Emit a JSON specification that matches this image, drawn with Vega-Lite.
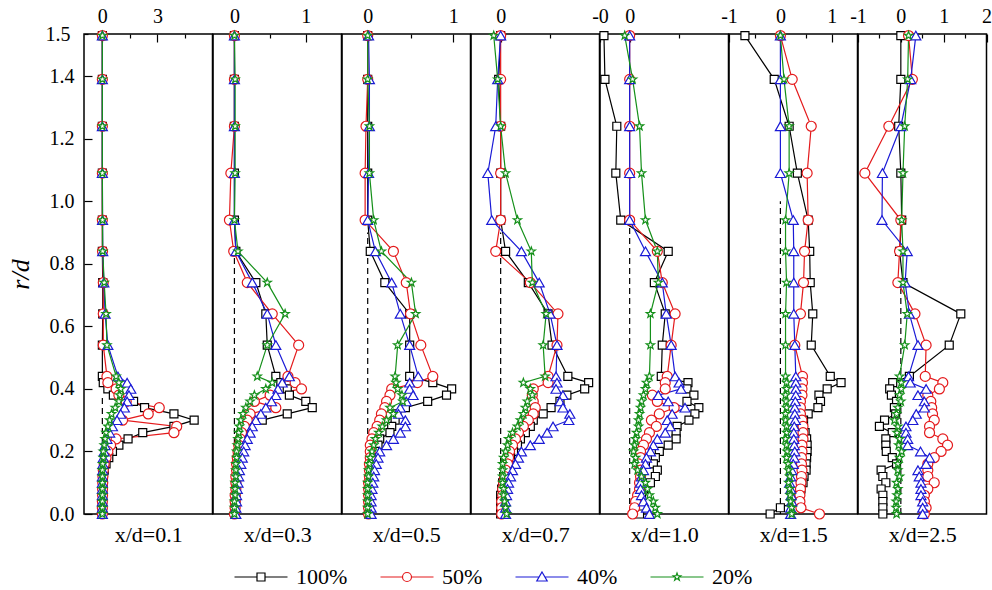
{
  "$schema": "https://vega.github.io/schema/vega-lite/v6.json",
  "padding": {"left": 6, "top": 1, "right": 2, "bottom": 0},
  "background": "white",
  "datasets": {
    "zero": [
      {"p": 1, "x": 0, "bot": 0, "top": 0.38}, {"p": 2, "x": 0, "bot": 0, "top": 0.84}, {"p": 3, "x": 0, "bot": 0, "top": 0.9},
      {"p": 4, "x": 0, "bot": 0, "top": 0.9}, {"p": 5, "x": 0, "bot": 0, "top": 0.92}, {"p": 6, "x": 0, "bot": 0, "top": 1.0},
      {"p": 7, "x": 0, "bot": 0, "top": 0.72}
    ],
    "prof": [
      {"p":1,"r":1.53,"100%":0,"50%":0,"40%":0,"20%":0},
      {"p":1,"r":1.39,"100%":0,"50%":0,"40%":0,"20%":0},
      {"p":1,"r":1.24,"100%":0,"50%":0,"40%":0,"20%":0},
      {"p":1,"r":1.09,"100%":0,"50%":0,"40%":0,"20%":0},
      {"p":1,"r":0.94,"100%":0,"50%":0,"40%":0.01,"20%":0.01},
      {"p":1,"r":0.84,"100%":0,"50%":0.01,"40%":0.02,"20%":0.02},
      {"p":1,"r":0.74,"100%":0.02,"50%":0.05,"40%":0.08,"20%":0.1},
      {"p":1,"r":0.64,"100%":0.02,"50%":0.05,"40%":0.15,"20%":0.2},
      {"p":1,"r":0.54,"100%":0,"50%":0.05,"40%":0.3,"20%":0.25},
      {"p":1,"r":0.44,"100%":0,"50%":0.25,"40%":0.85,"20%":0.75},
      {"p":1,"r":0.42,"100%":0.05,"50%":0.3,"40%":1.35,"20%":0.9},
      {"p":1,"r":0.40,"100%":0.3,"50%":0.75,"40%":1.55,"20%":1.0},
      {"p":1,"r":0.38,"100%":0.6,"50%":0.9,"40%":1.45,"20%":0.95},
      {"p":1,"r":0.36,"100%":1.7,"50%":1.3,"40%":1.35,"20%":0.9},
      {"p":1,"r":0.34,"100%":2.3,"50%":3.1,"40%":1.2,"20%":0.7},
      {"p":1,"r":0.32,"100%":3.9,"50%":2.5,"40%":1.0,"20%":0.5},
      {"p":1,"r":0.30,"100%":5.0,"50%":1.1,"40%":0.8,"20%":0.4},
      {"p":1,"r":0.28,"100%":3.9,"50%":4.05,"40%":0.55,"20%":0.3},
      {"p":1,"r":0.26,"100%":2.2,"50%":3.9,"40%":0.4,"20%":0.2},
      {"p":1,"r":0.24,"100%":1.4,"50%":0.75,"40%":0.25,"20%":0.15},
      {"p":1,"r":0.22,"100%":0.9,"50%":0.45,"40%":0.15,"20%":0.1},
      {"p":1,"r":0.20,"100%":0.55,"50%":0.3,"40%":0.1,"20%":0.05},
      {"p":1,"r":0.18,"100%":0.35,"50%":0.2,"40%":0.05,"20%":0.05},
      {"p":1,"r":0.16,"100%":0.2,"50%":0.1,"40%":0.03,"20%":0.02},
      {"p":1,"r":0.14,"100%":0.1,"50%":0.05,"40%":0.02,"20%":0},
      {"p":1,"r":0.12,"100%":0.05,"50%":0.03,"40%":0,"20%":0},
      {"p":1,"r":0.10,"100%":0.03,"50%":0.02,"40%":0,"20%":0},
      {"p":1,"r":0.08,"100%":0.02,"50%":0.01,"40%":0,"20%":0},
      {"p":1,"r":0.06,"100%":0.02,"50%":0.01,"40%":0,"20%":0},
      {"p":1,"r":0.04,"100%":0.01,"50%":0,"40%":0,"20%":0},
      {"p":1,"r":0.02,"100%":0.01,"50%":0,"40%":0,"20%":0},
      {"p":1,"r":0.00,"100%":0,"50%":0,"40%":0,"20%":0},

      {"p":2,"r":1.53,"100%":0,"50%":0,"40%":0,"20%":0},
      {"p":2,"r":1.39,"100%":0,"50%":0,"40%":0,"20%":0.01},
      {"p":2,"r":1.24,"100%":0,"50%":0,"40%":0,"20%":0.01},
      {"p":2,"r":1.09,"100%":0,"50%":-0.05,"40%":0,"20%":0.01},
      {"p":2,"r":0.94,"100%":0,"50%":-0.07,"40%":0,"20%":0},
      {"p":2,"r":0.84,"100%":0.02,"50%":-0.01,"40%":0.02,"20%":0.05},
      {"p":2,"r":0.74,"100%":0.3,"50%":0.18,"40%":0.25,"20%":0.46},
      {"p":2,"r":0.64,"100%":0.44,"50%":0.53,"40%":0.46,"20%":0.71},
      {"p":2,"r":0.54,"100%":0.46,"50%":0.9,"40%":0.58,"20%":0.46},
      {"p":2,"r":0.44,"100%":0.58,"50%":0.75,"40%":0.77,"20%":0.32},
      {"p":2,"r":0.42,"100%":0.65,"50%":0.85,"40%":0.67,"20%":0.53},
      {"p":2,"r":0.40,"100%":0.74,"50%":0.94,"40%":0.61,"20%":0.44},
      {"p":2,"r":0.38,"100%":0.77,"50%":0.5,"40%":0.58,"20%":0.28},
      {"p":2,"r":0.36,"100%":1.0,"50%":0.28,"40%":0.52,"20%":0.22},
      {"p":2,"r":0.34,"100%":1.09,"50%":0.58,"40%":0.44,"20%":0.16},
      {"p":2,"r":0.32,"100%":0.74,"50%":0.22,"40%":0.37,"20%":0.12},
      {"p":2,"r":0.30,"100%":0.39,"50%":0.18,"40%":0.3,"20%":0.09},
      {"p":2,"r":0.28,"100%":0.18,"50%":0.14,"40%":0.25,"20%":0.07},
      {"p":2,"r":0.26,"100%":0.12,"50%":0.1,"40%":0.22,"20%":0.06},
      {"p":2,"r":0.24,"100%":0.09,"50%":0.08,"40%":0.18,"20%":0.05},
      {"p":2,"r":0.22,"100%":0.07,"50%":0.06,"40%":0.15,"20%":0.04},
      {"p":2,"r":0.20,"100%":0.06,"50%":0.05,"40%":0.13,"20%":0.03},
      {"p":2,"r":0.18,"100%":0.05,"50%":0.04,"40%":0.11,"20%":0.03},
      {"p":2,"r":0.16,"100%":0.04,"50%":0.03,"40%":0.09,"20%":0.02},
      {"p":2,"r":0.14,"100%":0.04,"50%":0.03,"40%":0.07,"20%":0.02},
      {"p":2,"r":0.12,"100%":0.03,"50%":0.02,"40%":0.06,"20%":0.02},
      {"p":2,"r":0.10,"100%":0.03,"50%":0.02,"40%":0.05,"20%":0.01},
      {"p":2,"r":0.08,"100%":0.02,"50%":0.02,"40%":0.04,"20%":0.01},
      {"p":2,"r":0.06,"100%":0.02,"50%":0.01,"40%":0.03,"20%":0.01},
      {"p":2,"r":0.04,"100%":0.02,"50%":0.01,"40%":0.03,"20%":0},
      {"p":2,"r":0.02,"100%":0.01,"50%":0.01,"40%":0.02,"20%":0},
      {"p":2,"r":0.00,"100%":0.01,"50%":0,"40%":0.02,"20%":0},

      {"p":3,"r":1.53,"100%":0,"50%":0,"40%":0.01,"20%":0},
      {"p":3,"r":1.39,"100%":0,"50%":0,"40%":0.02,"20%":0},
      {"p":3,"r":1.24,"100%":0,"50%":-0.02,"40%":0.02,"20%":0.02},
      {"p":3,"r":1.09,"100%":0,"50%":-0.03,"40%":0.01,"20%":0.02},
      {"p":3,"r":0.94,"100%":0,"50%":-0.03,"40%":0,"20%":0.07},
      {"p":3,"r":0.84,"100%":0.03,"50%":0.3,"40%":0.09,"20%":0.16},
      {"p":3,"r":0.74,"100%":0.2,"50%":0.45,"40%":0.28,"20%":0.51},
      {"p":3,"r":0.64,"100%":0.49,"50%":0.5,"40%":0.38,"20%":0.56},
      {"p":3,"r":0.54,"100%":0.49,"50%":0.62,"40%":0.49,"20%":0.35},
      {"p":3,"r":0.44,"100%":0.49,"50%":0.76,"40%":0.59,"20%":0.32},
      {"p":3,"r":0.42,"100%":0.76,"50%":0.58,"40%":0.49,"20%":0.33},
      {"p":3,"r":0.40,"100%":0.98,"50%":0.28,"40%":0.49,"20%":0.35},
      {"p":3,"r":0.38,"100%":0.92,"50%":0.26,"40%":0.53,"20%":0.4},
      {"p":3,"r":0.36,"100%":0.7,"50%":0.22,"40%":0.45,"20%":0.41},
      {"p":3,"r":0.34,"100%":0.44,"50%":0.2,"40%":0.38,"20%":0.26},
      {"p":3,"r":0.32,"100%":0.34,"50%":0.16,"40%":0.36,"20%":0.3},
      {"p":3,"r":0.30,"100%":0.32,"50%":0.14,"40%":0.44,"20%":0.22},
      {"p":3,"r":0.28,"100%":0.28,"50%":0.11,"40%":0.44,"20%":0.17},
      {"p":3,"r":0.26,"100%":0.26,"50%":0.07,"40%":0.38,"20%":0.13},
      {"p":3,"r":0.24,"100%":0.14,"50%":0.05,"40%":0.3,"20%":0.09},
      {"p":3,"r":0.22,"100%":0.12,"50%":0.03,"40%":0.22,"20%":0.07},
      {"p":3,"r":0.20,"100%":0.08,"50%":0.03,"40%":0.14,"20%":0.05},
      {"p":3,"r":0.18,"100%":0.06,"50%":0.03,"40%":0.12,"20%":0.03},
      {"p":3,"r":0.16,"100%":0.05,"50%":0.02,"40%":0.1,"20%":0.02},
      {"p":3,"r":0.14,"100%":0.04,"50%":0.02,"40%":0.08,"20%":0.01},
      {"p":3,"r":0.12,"100%":0.03,"50%":0.02,"40%":0.07,"20%":0.01},
      {"p":3,"r":0.10,"100%":0.03,"50%":0.01,"40%":0.06,"20%":0},
      {"p":3,"r":0.08,"100%":0.02,"50%":0.01,"40%":0.05,"20%":0},
      {"p":3,"r":0.06,"100%":0.02,"50%":0.01,"40%":0.04,"20%":0},
      {"p":3,"r":0.04,"100%":0.02,"50%":0.01,"40%":0.04,"20%":0},
      {"p":3,"r":0.02,"100%":0.01,"50%":0.01,"40%":0.04,"20%":0},
      {"p":3,"r":0.00,"100%":0.01,"50%":0.01,"40%":0.04,"20%":0},

      {"p":4,"r":1.53,"100%":0,"50%":0,"40%":0,"20%":-0.07},
      {"p":4,"r":1.39,"100%":-0.02,"50%":0,"40%":-0.03,"20%":-0.03},
      {"p":4,"r":1.24,"100%":0,"50%":0,"40%":-0.05,"20%":0},
      {"p":4,"r":1.09,"100%":0,"50%":0,"40%":-0.13,"20%":0.05},
      {"p":4,"r":0.94,"100%":0,"50%":0,"40%":-0.09,"20%":0.17},
      {"p":4,"r":0.84,"100%":0.05,"50%":-0.05,"40%":0.21,"20%":0.31},
      {"p":4,"r":0.74,"100%":0.28,"50%":0.3,"40%":0.39,"20%":0.32},
      {"p":4,"r":0.64,"100%":0.48,"50%":0.58,"40%":0.5,"20%":0.46},
      {"p":4,"r":0.54,"100%":0.52,"50%":0.57,"40%":0.57,"20%":0.43},
      {"p":4,"r":0.44,"100%":0.68,"50%":0.48,"40%":0.56,"20%":0.45},
      {"p":4,"r":0.42,"100%":0.89,"50%":0.48,"40%":0.57,"20%":0.23},
      {"p":4,"r":0.40,"100%":0.85,"50%":0.33,"40%":0.56,"20%":0.3},
      {"p":4,"r":0.38,"100%":0.67,"50%":0.32,"40%":0.63,"20%":0.32},
      {"p":4,"r":0.36,"100%":0.6,"50%":0.33,"40%":0.6,"20%":0.27},
      {"p":4,"r":0.34,"100%":0.51,"50%":0.35,"40%":0.63,"20%":0.25},
      {"p":4,"r":0.32,"100%":0.43,"50%":0.33,"40%":0.7,"20%":0.23},
      {"p":4,"r":0.30,"100%":0.33,"50%":0.28,"40%":0.69,"20%":0.2},
      {"p":4,"r":0.28,"100%":0.3,"50%":0.23,"40%":0.53,"20%":0.17},
      {"p":4,"r":0.26,"100%":0.25,"50%":0.18,"40%":0.47,"20%":0.12},
      {"p":4,"r":0.24,"100%":0.2,"50%":0.15,"40%":0.39,"20%":0.08},
      {"p":4,"r":0.22,"100%":0.17,"50%":0.12,"40%":0.3,"20%":0.07},
      {"p":4,"r":0.20,"100%":0.13,"50%":0.09,"40%":0.21,"20%":0.05},
      {"p":4,"r":0.18,"100%":0.1,"50%":0.08,"40%":0.18,"20%":0.03},
      {"p":4,"r":0.16,"100%":0.07,"50%":0.07,"40%":0.15,"20%":0.02},
      {"p":4,"r":0.14,"100%":0.05,"50%":0.05,"40%":0.12,"20%":0.02},
      {"p":4,"r":0.12,"100%":0.03,"50%":0.04,"40%":0.1,"20%":0.02},
      {"p":4,"r":0.10,"100%":0.02,"50%":0.03,"40%":0.08,"20%":0.02},
      {"p":4,"r":0.08,"100%":0.01,"50%":0.02,"40%":0.07,"20%":0.03},
      {"p":4,"r":0.06,"100%":0,"50%":0.02,"40%":0.06,"20%":0.03},
      {"p":4,"r":0.04,"100%":0,"50%":0.01,"40%":0.05,"20%":0.04},
      {"p":4,"r":0.02,"100%":0,"50%":0.01,"40%":0.05,"20%":0.05},
      {"p":4,"r":0.00,"100%":0,"50%":0.01,"40%":0.05,"20%":0.06},

      {"p":5,"r":1.53,"100%":-0.26,"50%":0,"40%":0,"20%":-0.05},
      {"p":5,"r":1.39,"100%":-0.25,"50%":0,"40%":0,"20%":0.03},
      {"p":5,"r":1.24,"100%":-0.13,"50%":0,"40%":0,"20%":0.1},
      {"p":5,"r":1.09,"100%":-0.14,"50%":0,"40%":0,"20%":0.12},
      {"p":5,"r":0.94,"100%":-0.09,"50%":0,"40%":0,"20%":0.16},
      {"p":5,"r":0.84,"100%":0.39,"50%":0.28,"40%":0.16,"20%":0.28},
      {"p":5,"r":0.74,"100%":0.25,"50%":0.33,"40%":0.33,"20%":0.29},
      {"p":5,"r":0.64,"100%":0.36,"50%":0.46,"40%":0.37,"20%":0.21},
      {"p":5,"r":0.54,"100%":0.33,"50%":0.42,"40%":0.42,"20%":0.21},
      {"p":5,"r":0.44,"100%":0.32,"50%":0.38,"40%":0.46,"20%":0.2},
      {"p":5,"r":0.42,"100%":0.59,"50%":0.36,"40%":0.5,"20%":0.17},
      {"p":5,"r":0.40,"100%":0.58,"50%":0.36,"40%":0.52,"20%":0.16},
      {"p":5,"r":0.38,"100%":0.65,"50%":0.23,"40%":0.29,"20%":0.14},
      {"p":5,"r":0.36,"100%":0.58,"50%":0.28,"40%":0.39,"20%":0.12},
      {"p":5,"r":0.34,"100%":0.7,"50%":0.45,"40%":0.56,"20%":0.11},
      {"p":5,"r":0.32,"100%":0.66,"50%":0.3,"40%":0.43,"20%":0.1},
      {"p":5,"r":0.30,"100%":0.6,"50%":0.22,"40%":0.38,"20%":0.09},
      {"p":5,"r":0.28,"100%":0.48,"50%":0.27,"40%":0.41,"20%":0.09},
      {"p":5,"r":0.26,"100%":0.47,"50%":0.2,"40%":0.36,"20%":0.07},
      {"p":5,"r":0.24,"100%":0.47,"50%":0.17,"40%":0.28,"20%":0.06},
      {"p":5,"r":0.22,"100%":0.39,"50%":0.14,"40%":0.24,"20%":0.05},
      {"p":5,"r":0.20,"100%":0.3,"50%":0.11,"40%":0.21,"20%":0.04},
      {"p":5,"r":0.18,"100%":0.26,"50%":0.11,"40%":0.17,"20%":0.06},
      {"p":5,"r":0.16,"100%":0.24,"50%":0.09,"40%":0.16,"20%":0.05},
      {"p":5,"r":0.14,"100%":0.28,"50%":0.11,"40%":0.14,"20%":0.08},
      {"p":5,"r":0.12,"100%":0.26,"50%":0.11,"40%":0.12,"20%":0.12},
      {"p":5,"r":0.10,"100%":0.21,"50%":0.1,"40%":0.11,"20%":0.16},
      {"p":5,"r":0.08,"100%":0.14,"50%":0.1,"40%":0.11,"20%":0.18},
      {"p":5,"r":0.06,"100%":0.12,"50%":0.08,"40%":0.12,"20%":0.2},
      {"p":5,"r":0.04,"100%":0.1,"50%":0.06,"40%":0.14,"20%":0.24},
      {"p":5,"r":0.02,"100%":0.11,"50%":0.05,"40%":0.17,"20%":0.26},
      {"p":5,"r":0.00,"100%":0.1,"50%":0.03,"40%":0.2,"20%":0.28},

      {"p":6,"r":1.53,"100%":-0.69,"50%":0,"40%":0,"20%":0},
      {"p":6,"r":1.39,"100%":-0.12,"50%":0.23,"40%":0,"20%":0.07},
      {"p":6,"r":1.24,"100%":0.17,"50%":0.6,"40%":0,"20%":0.17},
      {"p":6,"r":1.09,"100%":0.33,"50%":0.52,"40%":0,"20%":0.17},
      {"p":6,"r":0.94,"100%":0.54,"50%":0.54,"40%":0.25,"20%":0.1},
      {"p":6,"r":0.84,"100%":0.57,"50%":0.47,"40%":0.26,"20%":0.1},
      {"p":6,"r":0.74,"100%":0.58,"50%":0.45,"40%":0.26,"20%":0.12},
      {"p":6,"r":0.64,"100%":0.63,"50%":0.39,"40%":0.26,"20%":0.1},
      {"p":6,"r":0.54,"100%":0.6,"50%":0.28,"40%":0.28,"20%":0.1},
      {"p":6,"r":0.44,"100%":0.97,"50%":0.43,"40%":0.3,"20%":0.1},
      {"p":6,"r":0.42,"100%":1.18,"50%":0.43,"40%":0.3,"20%":0.12},
      {"p":6,"r":0.40,"100%":0.91,"50%":0.42,"40%":0.3,"20%":0.12},
      {"p":6,"r":0.38,"100%":0.75,"50%":0.42,"40%":0.3,"20%":0.1},
      {"p":6,"r":0.36,"100%":0.78,"50%":0.39,"40%":0.29,"20%":0.11},
      {"p":6,"r":0.34,"100%":0.73,"50%":0.39,"40%":0.28,"20%":0.12},
      {"p":6,"r":0.32,"100%":0.54,"50%":0.39,"40%":0.28,"20%":0.1},
      {"p":6,"r":0.30,"100%":0.45,"50%":0.42,"40%":0.29,"20%":0.1},
      {"p":6,"r":0.28,"100%":0.42,"50%":0.44,"40%":0.27,"20%":0.12},
      {"p":6,"r":0.26,"100%":0.48,"50%":0.44,"40%":0.26,"20%":0.12},
      {"p":6,"r":0.24,"100%":0.51,"50%":0.44,"40%":0.26,"20%":0.1},
      {"p":6,"r":0.22,"100%":0.52,"50%":0.42,"40%":0.27,"20%":0.12},
      {"p":6,"r":0.20,"100%":0.52,"50%":0.42,"40%":0.28,"20%":0.13},
      {"p":6,"r":0.18,"100%":0.51,"50%":0.41,"40%":0.27,"20%":0.12},
      {"p":6,"r":0.16,"100%":0.5,"50%":0.41,"40%":0.25,"20%":0.15},
      {"p":6,"r":0.14,"100%":0.5,"50%":0.42,"40%":0.22,"20%":0.16},
      {"p":6,"r":0.12,"100%":0.46,"50%":0.41,"40%":0.2,"20%":0.18},
      {"p":6,"r":0.10,"100%":0.44,"50%":0.4,"40%":0.18,"20%":0.16},
      {"p":6,"r":0.08,"100%":0.4,"50%":0.39,"40%":0.2,"20%":0.18},
      {"p":6,"r":0.06,"100%":0.36,"50%":0.38,"40%":0.21,"20%":0.19},
      {"p":6,"r":0.04,"100%":0.3,"50%":0.38,"40%":0.22,"20%":0.2},
      {"p":6,"r":0.02,"100%":0.0,"50%":0.4,"40%":0.2,"20%":0.22},
      {"p":6,"r":0.00,"100%":-0.2,"50%":0.76,"40%":0.2,"20%":0.22},

      {"p":7,"r":1.53,"100%":0,"50%":0.18,"40%":0.35,"20%":0.18},
      {"p":7,"r":1.39,"100%":0,"50%":0.27,"40%":0.23,"20%":0.16},
      {"p":7,"r":1.24,"100%":-0.05,"50%":-0.28,"40%":0,"20%":0.09},
      {"p":7,"r":1.09,"100%":0,"50%":-0.84,"40%":-0.43,"20%":0.05},
      {"p":7,"r":0.94,"100%":0.02,"50%":0.0,"40%":-0.44,"20%":0.02},
      {"p":7,"r":0.84,"100%":-0.03,"50%":-0.03,"40%":0.15,"20%":0.05},
      {"p":7,"r":0.74,"100%":0.05,"50%":-0.07,"40%":0.1,"20%":0.05},
      {"p":7,"r":0.64,"100%":1.4,"50%":0.33,"40%":0.2,"20%":0.15},
      {"p":7,"r":0.54,"100%":1.13,"50%":0.59,"40%":0.4,"20%":0.09},
      {"p":7,"r":0.44,"100%":0.2,"50%":0.57,"40%":0.18,"20%":-0.03},
      {"p":7,"r":0.42,"100%":-0.19,"50%":0.98,"40%":0.22,"20%":0.01},
      {"p":7,"r":0.40,"100%":-0.26,"50%":0.9,"40%":0.59,"20%":0.01},
      {"p":7,"r":0.38,"100%":-0.22,"50%":0.63,"40%":0.4,"20%":-0.03},
      {"p":7,"r":0.36,"100%":-0.1,"50%":0.7,"40%":0.55,"20%":0.0},
      {"p":7,"r":0.34,"100%":-0.15,"50%":0.72,"40%":0.55,"20%":-0.07},
      {"p":7,"r":0.32,"100%":-0.12,"50%":0.74,"40%":0.36,"20%":-0.1},
      {"p":7,"r":0.30,"100%":-0.38,"50%":0.78,"40%":0.28,"20%":-0.15},
      {"p":7,"r":0.28,"100%":-0.5,"50%":0.67,"40%":0.12,"20%":-0.07},
      {"p":7,"r":0.26,"100%":-0.2,"50%":0.67,"40%":0.12,"20%":-0.09},
      {"p":7,"r":0.24,"100%":-0.35,"50%":0.98,"40%":0.16,"20%":-0.03},
      {"p":7,"r":0.22,"100%":-0.35,"50%":1.09,"40%":0.16,"20%":-0.05},
      {"p":7,"r":0.20,"100%":-0.34,"50%":0.94,"40%":0.46,"20%":0.02},
      {"p":7,"r":0.18,"100%":-0.2,"50%":0.78,"40%":0.67,"20%":-0.03},
      {"p":7,"r":0.16,"100%":-0.1,"50%":0.63,"40%":0.59,"20%":-0.07},
      {"p":7,"r":0.14,"100%":-0.46,"50%":0.63,"40%":0.4,"20%":-0.07},
      {"p":7,"r":0.12,"100%":-0.42,"50%":0.63,"40%":0.43,"20%":-0.03},
      {"p":7,"r":0.10,"100%":-0.35,"50%":0.78,"40%":0.47,"20%":-0.1},
      {"p":7,"r":0.08,"100%":-0.46,"50%":0.63,"40%":0.47,"20%":-0.07},
      {"p":7,"r":0.06,"100%":-0.42,"50%":0.55,"40%":0.47,"20%":-0.09},
      {"p":7,"r":0.04,"100%":-0.42,"50%":0.55,"40%":0.51,"20%":-0.11},
      {"p":7,"r":0.02,"100%":-0.42,"50%":0.59,"40%":0.51,"20%":-0.11},
      {"p":7,"r":0.00,"100%":-0.42,"50%":0.55,"40%":0.51,"20%":-0.1}
    ]
  },
  "spacing": 0,
  "bounds": "flush",
  "resolve": {"legend": {"color": "independent"}},
  "hconcat": [
    {
      "width": 128.5, "height": 480,
      "resolve": {"axis": {"x": "independent"}},
      "layer": [
        {"data": {"name": "zero"}, "transform": [{"filter": "datum.p == 1"}],
         "mark": {"type": "rule", "strokeDash": [6, 4], "strokeWidth": 1.2, "color": "black"},
         "encoding": {"x": {"field": "x", "type": "quantitative", "axis": {"orient": "bottom", "title": "x/d=0.1", "labels": false, "ticks": false, "domain": false}},
                      "y": {"field": "bot", "type": "quantitative", "title": "r/d"}, "y2": {"field": "top"}}},
        {"data": {"name": "prof"}, "transform": [{"filter": "datum.p == 1"}, {"fold": ["100%", "50%", "40%", "20%"], "as": ["s", "v"]}],
         "encoding": {
           "x": {"field": "v", "type": "quantitative", "scale": {"domain": [-1, 6], "nice": false, "zero": false},
                 "axis": {"orient": "top", "title": null, "values": [0, 1.5, 3, 4.5], "labelExpr": "datum.value % 1 == 0 ? '' + datum.value : ''",
                          "tickSize": {"condition": {"test": "datum.value % 1 != 0", "value": -4}, "value": -8}}},
           "y": {"field": "r", "type": "quantitative", "scale": {"domain": [0, 1.535], "nice": false, "zero": false},
                 "axis": {"orient": "left", "title": "r/d", "titleFontStyle": "italic", "titleFontSize": 26, "titlePadding": 12,
                          "values": [0, 0.1, 0.2, 0.3, 0.4, 0.5, 0.6, 0.7, 0.8, 0.9, 1.0, 1.1, 1.2, 1.3, 1.4, 1.5, 1.535],
                          "labelExpr": "datum.value > 1.52 ? '1.5' : (round(datum.value * 10) % 2 == 0 && datum.value < 1.45 ? format(datum.value, '.1f') : '')",
                          "tickSize": {"condition": {"test": "round(datum.value * 10) % 2 == 1", "value": -4}, "value": -8}}},
           "color": {"field": "s", "type": "nominal",
                     "scale": {"domain": ["100%", "50%", "40%", "20%"], "range": ["#000000", "#e41a1c", "#1a1ad6", "#15901a"]},
                     "legend": {"orient": "none", "legendX": 166, "legendY": 532, "direction": "horizontal", "title": null, "labelFontSize": 22, "labelColor": "black",
                                "symbolSize": 400, "symbolStrokeWidth": 1.2, "labelOffset": 24, "columnPadding": 30,
                                "encode": {"symbols": {"update": {
                                  "shape": {"signal": "datum.value == '100%' ? 'M-2.65,0H-0.4M0.4,0H2.65M-0.4,-0.4H0.4V0.4H-0.4Z' : datum.value == '50%' ? 'M-2.65,0H-0.45M0.45,0H2.65M-0.45,0A0.45,0.45,0,1,1,0.45,0A0.45,0.45,0,1,1,-0.45,0Z' : datum.value == '40%' ? 'M-2.65,0H-0.28M0.28,0H2.65M0,-0.5L0.52,0.4H-0.52Z' : 'M-2.65,0H-0.3M0.3,0H2.65M0,-0.4L0.094,-0.13L0.38,-0.124L0.152,0.05L0.235,0.324L0,0.16L-0.235,0.324L-0.152,0.05L-0.38,-0.124L-0.094,-0.13Z'"}}}}}}
         },
         "layer": [
           {"mark": {"type": "line", "strokeWidth": 1.2}, "encoding": {"order": {"field": "r", "type": "quantitative"}}},
           {"transform": [{"filter": "datum.s == '100%'"}], "mark": {"type": "point", "shape": "square", "size": 64, "filled": false, "fill": "white", "opacity": 1, "strokeWidth": 1.2}},
           {"transform": [{"filter": "datum.s == '50%'"}], "mark": {"type": "point", "shape": "circle", "size": 100, "filled": false, "fill": "white", "opacity": 1, "strokeWidth": 1.2}},
           {"transform": [{"filter": "datum.s == '40%'"}], "mark": {"type": "point", "shape": "triangle-up", "size": 100, "filled": false, "fill": "white", "opacity": 1, "strokeWidth": 1.2}},
           {"transform": [{"filter": "datum.s == '20%'"}], "mark": {"type": "point", "shape": "M0,-1L0.235,-0.324L0.951,-0.309L0.38,0.124L0.588,0.809L0,0.4L-0.588,0.809L-0.38,0.124L-0.951,-0.309L-0.235,-0.324Z", "size": 75, "filled": false, "fill": "white", "opacity": 1, "strokeWidth": 1.2}}
         ]}
      ]
    },
    {
      "width": 128.5, "height": 480,
      "resolve": {"axis": {"x": "independent"}},
      "layer": [
        {"data": {"name": "zero"}, "transform": [{"filter": "datum.p == 2"}],
         "mark": {"type": "rule", "strokeDash": [6, 4], "strokeWidth": 1.2, "color": "black"},
         "encoding": {"x": {"field": "x", "type": "quantitative", "axis": {"orient": "bottom", "title": "x/d=0.3", "labels": false, "ticks": false, "domain": false}},
                      "y": {"field": "bot", "type": "quantitative", "axis": null}, "y2": {"field": "top"}}},
        {"data": {"name": "prof"}, "transform": [{"filter": "datum.p == 2"}, {"fold": ["100%", "50%", "40%", "20%"], "as": ["s", "v"]}],
         "encoding": {
           "x": {"field": "v", "type": "quantitative", "scale": {"domain": [-0.3, 1.5], "nice": false, "zero": false},
                 "axis": {"orient": "top", "title": null, "values": [0, 0.5, 1], "labelExpr": "datum.value % 1 == 0 ? '' + datum.value : ''",
                          "tickSize": {"condition": {"test": "datum.value % 1 != 0", "value": -4}, "value": -8}}},
           "y": {"field": "r", "type": "quantitative", "scale": {"domain": [0, 1.535], "nice": false, "zero": false}, "axis": null},
           "color": {"field": "s", "type": "nominal", "scale": {"domain": ["100%", "50%", "40%", "20%"], "range": ["#000000", "#e41a1c", "#1a1ad6", "#15901a"]}, "legend": null}
         },
         "layer": [
           {"mark": {"type": "line", "strokeWidth": 1.2}, "encoding": {"order": {"field": "r", "type": "quantitative"}}},
           {"transform": [{"filter": "datum.s == '100%'"}], "mark": {"type": "point", "shape": "square", "size": 64, "filled": false, "fill": "white", "opacity": 1, "strokeWidth": 1.2}},
           {"transform": [{"filter": "datum.s == '50%'"}], "mark": {"type": "point", "shape": "circle", "size": 100, "filled": false, "fill": "white", "opacity": 1, "strokeWidth": 1.2}},
           {"transform": [{"filter": "datum.s == '40%'"}], "mark": {"type": "point", "shape": "triangle-up", "size": 100, "filled": false, "fill": "white", "opacity": 1, "strokeWidth": 1.2}},
           {"transform": [{"filter": "datum.s == '20%'"}], "mark": {"type": "point", "shape": "M0,-1L0.235,-0.324L0.951,-0.309L0.38,0.124L0.588,0.809L0,0.4L-0.588,0.809L-0.38,0.124L-0.951,-0.309L-0.235,-0.324Z", "size": 75, "filled": false, "fill": "white", "opacity": 1, "strokeWidth": 1.2}}
         ]}
      ]
    },
    {
      "width": 128.5, "height": 480,
      "resolve": {"axis": {"x": "independent"}},
      "layer": [
        {"data": {"name": "zero"}, "transform": [{"filter": "datum.p == 3"}],
         "mark": {"type": "rule", "strokeDash": [6, 4], "strokeWidth": 1.2, "color": "black"},
         "encoding": {"x": {"field": "x", "type": "quantitative", "axis": {"orient": "bottom", "title": "x/d=0.5", "labels": false, "ticks": false, "domain": false}},
                      "y": {"field": "bot", "type": "quantitative", "axis": null}, "y2": {"field": "top"}}},
        {"data": {"name": "prof"}, "transform": [{"filter": "datum.p == 3"}, {"fold": ["100%", "50%", "40%", "20%"], "as": ["s", "v"]}],
         "encoding": {
           "x": {"field": "v", "type": "quantitative", "scale": {"domain": [-0.3, 1.2], "nice": false, "zero": false},
                 "axis": {"orient": "top", "title": null, "values": [0, 0.5, 1], "labelExpr": "datum.value % 1 == 0 ? '' + datum.value : ''",
                          "tickSize": {"condition": {"test": "datum.value % 1 != 0", "value": -4}, "value": -8}}},
           "y": {"field": "r", "type": "quantitative", "scale": {"domain": [0, 1.535], "nice": false, "zero": false}, "axis": null},
           "color": {"field": "s", "type": "nominal", "scale": {"domain": ["100%", "50%", "40%", "20%"], "range": ["#000000", "#e41a1c", "#1a1ad6", "#15901a"]}, "legend": null}
         },
         "layer": [
           {"mark": {"type": "line", "strokeWidth": 1.2}, "encoding": {"order": {"field": "r", "type": "quantitative"}}},
           {"transform": [{"filter": "datum.s == '100%'"}], "mark": {"type": "point", "shape": "square", "size": 64, "filled": false, "fill": "white", "opacity": 1, "strokeWidth": 1.2}},
           {"transform": [{"filter": "datum.s == '50%'"}], "mark": {"type": "point", "shape": "circle", "size": 100, "filled": false, "fill": "white", "opacity": 1, "strokeWidth": 1.2}},
           {"transform": [{"filter": "datum.s == '40%'"}], "mark": {"type": "point", "shape": "triangle-up", "size": 100, "filled": false, "fill": "white", "opacity": 1, "strokeWidth": 1.2}},
           {"transform": [{"filter": "datum.s == '20%'"}], "mark": {"type": "point", "shape": "M0,-1L0.235,-0.324L0.951,-0.309L0.38,0.124L0.588,0.809L0,0.4L-0.588,0.809L-0.38,0.124L-0.951,-0.309L-0.235,-0.324Z", "size": 75, "filled": false, "fill": "white", "opacity": 1, "strokeWidth": 1.2}}
         ]}
      ]
    },
    {
      "width": 128.5, "height": 480,
      "resolve": {"axis": {"x": "independent"}},
      "layer": [
        {"data": {"name": "zero"}, "transform": [{"filter": "datum.p == 4"}],
         "mark": {"type": "rule", "strokeDash": [6, 4], "strokeWidth": 1.2, "color": "black"},
         "encoding": {"x": {"field": "x", "type": "quantitative", "axis": {"orient": "bottom", "title": "x/d=0.7", "labels": false, "ticks": false, "domain": false}},
                      "y": {"field": "bot", "type": "quantitative", "axis": null}, "y2": {"field": "top"}}},
        {"data": {"name": "prof"}, "transform": [{"filter": "datum.p == 4"}, {"fold": ["100%", "50%", "40%", "20%"], "as": ["s", "v"]}],
         "encoding": {
           "x": {"field": "v", "type": "quantitative", "scale": {"domain": [-0.3, 1.0], "nice": false, "zero": false},
                 "axis": {"orient": "top", "title": null, "values": [0, 0.5], "labelExpr": "datum.value % 1 == 0 ? '' + datum.value : ''",
                          "tickSize": {"condition": {"test": "datum.value % 1 != 0", "value": -4}, "value": -8}}},
           "y": {"field": "r", "type": "quantitative", "scale": {"domain": [0, 1.535], "nice": false, "zero": false}, "axis": null},
           "color": {"field": "s", "type": "nominal", "scale": {"domain": ["100%", "50%", "40%", "20%"], "range": ["#000000", "#e41a1c", "#1a1ad6", "#15901a"]}, "legend": null}
         },
         "layer": [
           {"mark": {"type": "line", "strokeWidth": 1.2}, "encoding": {"order": {"field": "r", "type": "quantitative"}}},
           {"transform": [{"filter": "datum.s == '100%'"}], "mark": {"type": "point", "shape": "square", "size": 64, "filled": false, "fill": "white", "opacity": 1, "strokeWidth": 1.2}},
           {"transform": [{"filter": "datum.s == '50%'"}], "mark": {"type": "point", "shape": "circle", "size": 100, "filled": false, "fill": "white", "opacity": 1, "strokeWidth": 1.2}},
           {"transform": [{"filter": "datum.s == '40%'"}], "mark": {"type": "point", "shape": "triangle-up", "size": 100, "filled": false, "fill": "white", "opacity": 1, "strokeWidth": 1.2}},
           {"transform": [{"filter": "datum.s == '20%'"}], "mark": {"type": "point", "shape": "M0,-1L0.235,-0.324L0.951,-0.309L0.38,0.124L0.588,0.809L0,0.4L-0.588,0.809L-0.38,0.124L-0.951,-0.309L-0.235,-0.324Z", "size": 75, "filled": false, "fill": "white", "opacity": 1, "strokeWidth": 1.2}}
         ]}
      ]
    },
    {
      "width": 128.5, "height": 480,
      "resolve": {"axis": {"x": "independent"}},
      "layer": [
        {"data": {"name": "zero"}, "transform": [{"filter": "datum.p == 5"}],
         "mark": {"type": "rule", "strokeDash": [6, 4], "strokeWidth": 1.2, "color": "black"},
         "encoding": {"x": {"field": "x", "type": "quantitative", "axis": {"orient": "bottom", "title": "x/d=1.0", "labels": false, "ticks": false, "domain": false}},
                      "y": {"field": "bot", "type": "quantitative", "axis": null}, "y2": {"field": "top"}}},
        {"data": {"name": "prof"}, "transform": [{"filter": "datum.p == 5"}, {"fold": ["100%", "50%", "40%", "20%"], "as": ["s", "v"]}],
         "encoding": {
           "x": {"field": "v", "type": "quantitative", "scale": {"domain": [-0.3, 1.0], "nice": false, "zero": false},
                 "axis": {"orient": "top", "title": null, "values": [-0.3, 0, 0.5], "labelExpr": "datum.value == -0.3 ? '-0' : datum.value == 0 ? '0' : ''",
                          "tickSize": {"condition": {"test": "datum.value == 0.5", "value": -4}, "value": -8}}},
           "y": {"field": "r", "type": "quantitative", "scale": {"domain": [0, 1.535], "nice": false, "zero": false}, "axis": null},
           "color": {"field": "s", "type": "nominal", "scale": {"domain": ["100%", "50%", "40%", "20%"], "range": ["#000000", "#e41a1c", "#1a1ad6", "#15901a"]}, "legend": null}
         },
         "layer": [
           {"mark": {"type": "line", "strokeWidth": 1.2}, "encoding": {"order": {"field": "r", "type": "quantitative"}}},
           {"transform": [{"filter": "datum.s == '100%'"}], "mark": {"type": "point", "shape": "square", "size": 64, "filled": false, "fill": "white", "opacity": 1, "strokeWidth": 1.2}},
           {"transform": [{"filter": "datum.s == '50%'"}], "mark": {"type": "point", "shape": "circle", "size": 100, "filled": false, "fill": "white", "opacity": 1, "strokeWidth": 1.2}},
           {"transform": [{"filter": "datum.s == '40%'"}], "mark": {"type": "point", "shape": "triangle-up", "size": 100, "filled": false, "fill": "white", "opacity": 1, "strokeWidth": 1.2}},
           {"transform": [{"filter": "datum.s == '20%'"}], "mark": {"type": "point", "shape": "M0,-1L0.235,-0.324L0.951,-0.309L0.38,0.124L0.588,0.809L0,0.4L-0.588,0.809L-0.38,0.124L-0.951,-0.309L-0.235,-0.324Z", "size": 75, "filled": false, "fill": "white", "opacity": 1, "strokeWidth": 1.2}}
         ]}
      ]
    },
    {
      "width": 128.5, "height": 480,
      "resolve": {"axis": {"x": "independent"}},
      "layer": [
        {"data": {"name": "zero"}, "transform": [{"filter": "datum.p == 6"}],
         "mark": {"type": "rule", "strokeDash": [6, 4], "strokeWidth": 1.2, "color": "black"},
         "encoding": {"x": {"field": "x", "type": "quantitative", "axis": {"orient": "bottom", "title": "x/d=1.5", "labels": false, "ticks": false, "domain": false}},
                      "y": {"field": "bot", "type": "quantitative", "axis": null}, "y2": {"field": "top"}}},
        {"data": {"name": "prof"}, "transform": [{"filter": "datum.p == 6"}, {"fold": ["100%", "50%", "40%", "20%"], "as": ["s", "v"]}],
         "encoding": {
           "x": {"field": "v", "type": "quantitative", "scale": {"domain": [-1, 1.5], "nice": false, "zero": false},
                 "axis": {"orient": "top", "title": null, "values": [-1, -0.5, 0, 0.5, 1], "labelExpr": "datum.value % 1 == 0 ? '' + datum.value : ''",
                          "tickSize": {"condition": {"test": "datum.value % 1 != 0", "value": -4}, "value": -8}}},
           "y": {"field": "r", "type": "quantitative", "scale": {"domain": [0, 1.535], "nice": false, "zero": false}, "axis": null},
           "color": {"field": "s", "type": "nominal", "scale": {"domain": ["100%", "50%", "40%", "20%"], "range": ["#000000", "#e41a1c", "#1a1ad6", "#15901a"]}, "legend": null}
         },
         "layer": [
           {"mark": {"type": "line", "strokeWidth": 1.2}, "encoding": {"order": {"field": "r", "type": "quantitative"}}},
           {"transform": [{"filter": "datum.s == '100%'"}], "mark": {"type": "point", "shape": "square", "size": 64, "filled": false, "fill": "white", "opacity": 1, "strokeWidth": 1.2}},
           {"transform": [{"filter": "datum.s == '50%'"}], "mark": {"type": "point", "shape": "circle", "size": 100, "filled": false, "fill": "white", "opacity": 1, "strokeWidth": 1.2}},
           {"transform": [{"filter": "datum.s == '40%'"}], "mark": {"type": "point", "shape": "triangle-up", "size": 100, "filled": false, "fill": "white", "opacity": 1, "strokeWidth": 1.2}},
           {"transform": [{"filter": "datum.s == '20%'"}], "mark": {"type": "point", "shape": "M0,-1L0.235,-0.324L0.951,-0.309L0.38,0.124L0.588,0.809L0,0.4L-0.588,0.809L-0.38,0.124L-0.951,-0.309L-0.235,-0.324Z", "size": 75, "filled": false, "fill": "white", "opacity": 1, "strokeWidth": 1.2}}
         ]}
      ]
    },
    {
      "width": 128.5, "height": 480,
      "resolve": {"axis": {"x": "independent"}},
      "layer": [
        {"data": {"name": "zero"}, "transform": [{"filter": "datum.p == 7"}],
         "mark": {"type": "rule", "strokeDash": [6, 4], "strokeWidth": 1.2, "color": "black"},
         "encoding": {"x": {"field": "x", "type": "quantitative", "axis": {"orient": "bottom", "title": "x/d=2.5", "labels": false, "ticks": false, "domain": false}},
                      "y": {"field": "bot", "type": "quantitative", "axis": null}, "y2": {"field": "top"}}},
        {"data": {"name": "prof"}, "transform": [{"filter": "datum.p == 7"}, {"fold": ["100%", "50%", "40%", "20%"], "as": ["s", "v"]}],
         "encoding": {
           "x": {"field": "v", "type": "quantitative", "scale": {"domain": [-1, 2], "nice": false, "zero": false},
                 "axis": {"orient": "top", "title": null, "values": [-1, -0.5, 0, 0.5, 1, 1.5, 2], "labelExpr": "datum.value % 1 == 0 ? '' + datum.value : ''",
                          "tickSize": {"condition": {"test": "datum.value % 1 != 0", "value": -4}, "value": -8}}},
           "y": {"field": "r", "type": "quantitative", "scale": {"domain": [0, 1.535], "nice": false, "zero": false}, "axis": null},
           "color": {"field": "s", "type": "nominal", "scale": {"domain": ["100%", "50%", "40%", "20%"], "range": ["#000000", "#e41a1c", "#1a1ad6", "#15901a"]}, "legend": null}
         },
         "layer": [
           {"mark": {"type": "line", "strokeWidth": 1.2}, "encoding": {"order": {"field": "r", "type": "quantitative"}}},
           {"transform": [{"filter": "datum.s == '100%'"}], "mark": {"type": "point", "shape": "square", "size": 64, "filled": false, "fill": "white", "opacity": 1, "strokeWidth": 1.2}},
           {"transform": [{"filter": "datum.s == '50%'"}], "mark": {"type": "point", "shape": "circle", "size": 100, "filled": false, "fill": "white", "opacity": 1, "strokeWidth": 1.2}},
           {"transform": [{"filter": "datum.s == '40%'"}], "mark": {"type": "point", "shape": "triangle-up", "size": 100, "filled": false, "fill": "white", "opacity": 1, "strokeWidth": 1.2}},
           {"transform": [{"filter": "datum.s == '20%'"}], "mark": {"type": "point", "shape": "M0,-1L0.235,-0.324L0.951,-0.309L0.38,0.124L0.588,0.809L0,0.4L-0.588,0.809L-0.38,0.124L-0.951,-0.309L-0.235,-0.324Z", "size": 75, "filled": false, "fill": "white", "opacity": 1, "strokeWidth": 1.2}}
         ]}
      ]
    }
  ],
  "config": {
    "font": "Liberation Serif, Times New Roman, serif",
    "view": {"stroke": "black", "strokeWidth": 1.5},
    "axis": {"grid": false, "domain": false, "labelFont": "Liberation Serif, Times New Roman, serif", "labelFontSize": 20, "labelColor": "black",
             "titleFont": "Liberation Serif, Times New Roman, serif", "titleColor": "black", "titleFontWeight": "normal", "tickColor": "black", "tickWidth": 1.2,
             "labelPadding": 10, "labelOverlap": false, "labelFlush": false, "labelBound": false},
    "axisTop": {"labelPadding": 16},
    "axisLeft": {"labelPadding": 18},
    "axisBottom": {"titleFontSize": 22, "titlePadding": 10},
    "legend": {"labelFont": "Liberation Serif, Times New Roman, serif"}
  }
}
